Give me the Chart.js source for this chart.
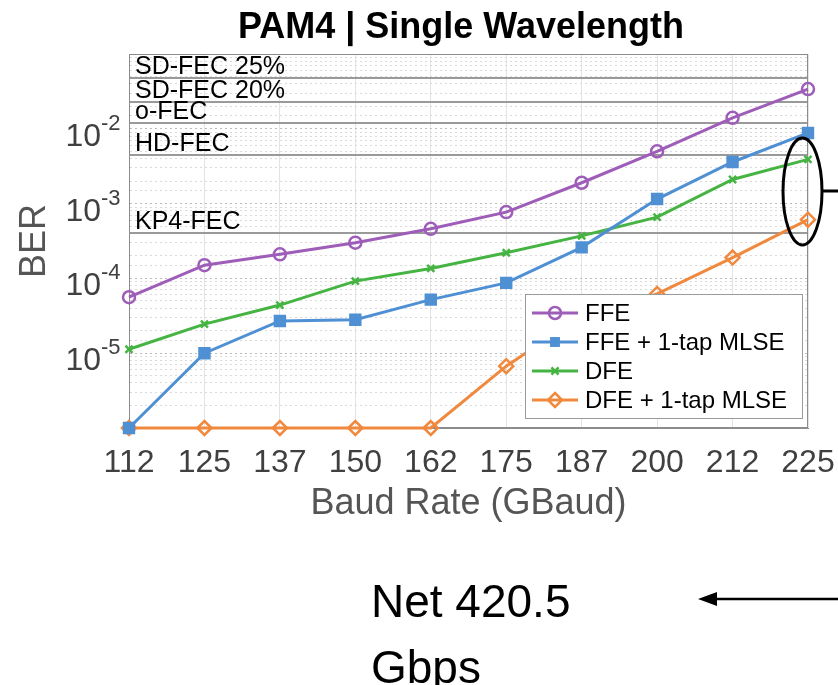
<!DOCTYPE html>
<html lang="en">
<head>
  <meta charset="UTF-8">
  <title>PAM4 | Single Wavelength</title>
  <style>
    body {
      margin: 0;
      background: #fff;
      font-family: Arial, "Liberation Sans", sans-serif;
    }
    .wrap {
      position: relative;
      width: 838px;
      height: 685px;
      overflow: hidden;
    }
    .chart-title {
      position: absolute;
      left: 461px;
      top: 8px;
      transform: translateX(-50%);
      white-space: nowrap;
      font-size: 36px;
      line-height: 36px;
      font-weight: bold;
      color: #000;
    }
    .note {
      position: absolute;
      left: 371px;
      top: 568px;
      font-size: 46px;
      line-height: 66px;
      color: #000;
    }
  </style>
  <script src="https://cdn.jsdelivr.net/npm/chart.js"></script>
</head>
<body>
  <div class="wrap">
    <canvas id="berChart" width="838" height="685"></canvas>
    <div class="chart-title">PAM4 | Single Wavelength</div>
    <div class="note">Net 420.5<br>Gbps</div>
  </div>

  <script>
    // baud rates (GBaud)
    const baudRates = ['112', '125', '137', '150', '162', '175', '187', '200', '212', '225'];

    // BER per equaliser
    const ffe     = [5.6e-5, 1.5e-4, 2.1e-4, 3.0e-4, 4.6e-4, 7.7e-4, 1.9e-3, 5.0e-3, 1.4e-2, 3.4e-2];
    const ffeMlse = [1e-6, 1.0e-5, 2.7e-5, 2.8e-5, 5.2e-5, 8.7e-5, 2.6e-4, 1.15e-3, 3.6e-3, 8.8e-3];
    const dfe     = [1.13e-5, 2.45e-5, 4.4e-5, 9.2e-5, 1.36e-4, 2.2e-4, 3.7e-4, 6.6e-4, 2.1e-3, 3.9e-3];
    const dfeMlse = [1e-6, 1e-6, 1e-6, 1e-6, 1e-6, 6.7e-6, 3.2e-5, 6.2e-5, 1.9e-4, 6.1e-4];

    // FEC thresholds
    const fecNames  = ['SD-FEC 25%', 'SD-FEC 20%', 'o-FEC', 'HD-FEC', 'KP4-FEC'];
    const fecLevels = [4.8e-2, 2.3e-2, 1.2e-2, 4.4e-3, 4.0e-4];

    // labelled decades on the y axis
    const yTickExps = [-2, -3, -4, -5];

    const FONT = 'Arial, "Liberation Sans", sans-serif';

    function drawMarker(ctx, style, x, y, r, color) {
      ctx.save();
      ctx.strokeStyle = color;
      ctx.fillStyle = color;
      ctx.lineWidth = 2.5;
      ctx.beginPath();
      if (style === 'circle') {
        ctx.arc(x, y, r, 0, Math.PI * 2);
        ctx.stroke();
      } else if (style === 'rect') {
        const s = r * Math.SQRT1_2;
        ctx.rect(x - s, y - s, s * 2, s * 2);
        ctx.fill();
      } else if (style === 'crossRot') {
        const s = r * Math.SQRT1_2;
        ctx.moveTo(x - s, y - s); ctx.lineTo(x + s, y + s);
        ctx.moveTo(x - s, y + s); ctx.lineTo(x + s, y - s);
        ctx.stroke();
      } else if (style === 'rectRot') {
        ctx.moveTo(x, y - r); ctx.lineTo(x + r, y); ctx.lineTo(x, y + r); ctx.lineTo(x - r, y);
        ctx.closePath();
        ctx.stroke();
      }
      ctx.restore();
    }

    const extras = {
      id: 'extras',
      beforeDatasetsDraw(chart) {
        const { ctx, chartArea: a, scales: { y } } = chart;
        ctx.save();
        ctx.strokeStyle = '#9a9a9a';
        ctx.lineWidth = 2;
        ctx.fillStyle = '#000';
        ctx.font = '25px ' + FONT;
        ctx.textAlign = 'left';
        ctx.textBaseline = 'alphabetic';
        fecNames.forEach((name, i) => {
          const py = Math.round(y.getPixelForValue(fecLevels[i]));
          ctx.beginPath();
          ctx.moveTo(a.left, py);
          ctx.lineTo(a.right, py);
          ctx.stroke();
          ctx.fillText(name, a.left + 6, py - 4);
        });
        ctx.strokeStyle = '#8c8c8c';
        ctx.lineWidth = 1;
        ctx.strokeRect(a.left + 0.5, a.top + 0.5, a.width - 1, a.height - 1);
        ctx.restore();
      },
      afterDraw(chart) {
        const { ctx, chartArea: a, scales: { y } } = chart;
        ctx.save();

        // y tick labels 10^n
        ctx.fillStyle = '#404040';
        yTickExps.forEach(e => {
          const py = y.getPixelForValue(Math.pow(10, e));
          ctx.textBaseline = 'alphabetic';
          ctx.font = '32px ' + FONT;
          ctx.textAlign = 'right';
          ctx.fillText('10', a.left - 28, py + 17);
          ctx.font = '22px ' + FONT;
          ctx.textAlign = 'left';
          ctx.fillText('-' + Math.abs(e), a.left - 28, py + 1);
        });

        // legend
        const lx = 525, ly = 294, lw = 277, lh = 124;
        ctx.fillStyle = '#fff';
        ctx.fillRect(lx, ly, lw, lh);
        ctx.strokeStyle = '#9a9a9a';
        ctx.lineWidth = 1;
        ctx.strokeRect(lx + 0.5, ly + 0.5, lw, lh);
        ctx.font = '24px ' + FONT;
        ctx.textBaseline = 'middle';
        ctx.textAlign = 'left';
        chart.data.datasets.forEach((ds, i) => {
          const cy = ly + 19 + i * 29;
          ctx.strokeStyle = ds.borderColor;
          ctx.lineWidth = 3;
          ctx.beginPath();
          ctx.moveTo(lx + 7, cy);
          ctx.lineTo(lx + 53, cy);
          ctx.stroke();
          drawMarker(ctx, ds.pointStyle, lx + 30, cy, ds.pointRadius, ds.borderColor);
          ctx.fillStyle = '#000';
          ctx.fillText(ds.label, lx + 60, cy + 1);
        });

        // ellipse around the 225 GBaud points and the arrow
        ctx.strokeStyle = '#000';
        ctx.lineWidth = 3;
        ctx.beginPath();
        ctx.ellipse(802.5, 191.5, 19.5, 53.5, 0, 0, Math.PI * 2);
        ctx.stroke();
        ctx.beginPath();
        ctx.moveTo(822, 191);
        ctx.lineTo(838, 191);
        ctx.stroke();

        ctx.lineWidth = 2.5;
        ctx.beginPath();
        ctx.moveTo(838, 599);
        ctx.lineTo(712, 599);
        ctx.stroke();
        ctx.fillStyle = '#000';
        ctx.beginPath();
        ctx.moveTo(698, 599);
        ctx.lineTo(717, 592);
        ctx.lineTo(717, 606);
        ctx.closePath();
        ctx.fill();

        ctx.restore();
      }
    };

    const series = (label, data, color, style, radius) => ({
      label: label,
      data: data,
      borderColor: color,
      backgroundColor: color,
      borderWidth: 3,
      tension: 0,
      pointStyle: style,
      pointRadius: radius,
      pointHoverRadius: radius,
      pointBorderWidth: 2.5,
      pointBorderColor: color,
      pointBackgroundColor: style === 'rect' ? color : 'rgba(0,0,0,0)',
      clip: false
    });

    new Chart(document.getElementById('berChart'), {
      type: 'line',
      data: {
        labels: baudRates,
        datasets: [
          series('FFE', ffe, '#9e5db8', 'circle', 6),
          series('FFE + 1-tap MLSE', ffeMlse, '#4f90d4', 'rect', 7),
          series('DFE', dfe, '#46b443', 'crossRot', 5),
          series('DFE + 1-tap MLSE', dfeMlse, '#f0893d', 'rectRot', 7)
        ]
      },
      options: {
        responsive: false,
        animation: false,
        devicePixelRatio: 1,
        layout: { padding: { left: 0, right: 30, top: 54, bottom: 147 } },
        plugins: {
          legend: { display: false },
          tooltip: { enabled: false },
          title: { display: false }
        },
        scales: {
          x: {
            type: 'category',
            offset: false,
            grid: { color: '#e4e4e4', lineWidth: 1, drawTicks: false },
            border: { display: true, color: '#8c8c8c' },
            ticks: {
              color: '#404040',
              font: { family: FONT, size: 32 },
              padding: 16,
              autoSkip: false,
              maxRotation: 0
            },
            title: {
              display: true,
              text: 'Baud Rate (GBaud)',
              color: '#555',
              font: { family: FONT, size: 36 },
              padding: { top: 0, bottom: 12 }
            },
            afterFit(scale) {
              scale.height = 110;
              scale.paddingLeft = 0;
              scale.paddingRight = 0;
            }
          },
          y: {
            type: 'logarithmic',
            min: 1e-6,
            max: 1e-1,
            grid: {
              drawTicks: false,
              color: ctx => (ctx.tick && ctx.tick.major) ? '#bcbcbc' : '#dadada',
              lineWidth: 1
            },
            border: { display: true, color: '#8c8c8c', dash: [2, 3] },
            ticks: { display: false, autoSkip: false },
            title: {
              display: true,
              text: 'BER',
              color: '#555',
              font: { family: FONT, size: 36 },
              padding: { top: 13, bottom: 0 }
            },
            afterFit(scale) {
              scale.width = 129;
              scale.paddingTop = 0;
              scale.paddingBottom = 0;
            }
          }
        }
      },
      plugins: [extras]
    });
  </script>
</body>
</html>
